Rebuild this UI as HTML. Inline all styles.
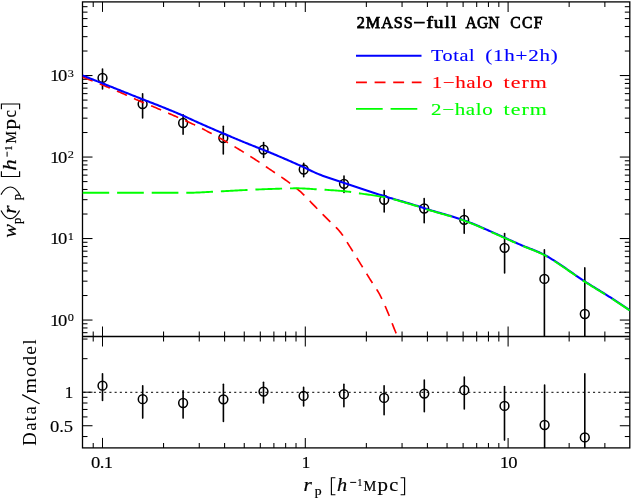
<!DOCTYPE html>
<html lang="en">
<head>
<meta charset="utf-8">
<title>2MASS-full AGN CCF</title>
<style>
html,body{margin:0;padding:0;background:#fff;}
body{width:631px;height:499px;overflow:hidden;position:relative;font-family:"Liberation Serif",serif;}
svg{will-change:transform;}
svg text{font-family:"Liberation Serif",serif;}
</style>
</head>
<body>
<svg width="631" height="499" viewBox="0 0 631 499" style="display:block;position:absolute;left:0;top:0">
<rect x="0" y="0" width="631" height="499" fill="#fff"/>
<defs>
<clipPath id="cu"><rect x="82.5" y="1.9" width="547.3" height="334.6"/></clipPath>
</defs>
<line x1="82.50" y1="392.30" x2="629.80" y2="392.30" stroke="#000" stroke-width="1.0" stroke-dasharray="2.1 3.1" stroke-dashoffset="-0.9"/>
<g fill="none" stroke="#000" stroke-width="1.3">
<rect x="82.5" y="1.9" width="547.30" height="446.00"/>
<line x1="82.5" y1="336.5" x2="629.8" y2="336.5"/>
</g>
<g stroke="#000" stroke-width="1.05" fill="none">
<path d="M93.22,1.9 v5.0"/>
<path d="M93.22,331.5 v10.0"/>
<path d="M93.22,447.9 v-5.0"/>
<path d="M102.50,1.9 v10.0"/>
<path d="M102.50,326.5 v20.0"/>
<path d="M102.50,447.9 v-10.0"/>
<path d="M163.55,1.9 v5.0"/>
<path d="M163.55,331.5 v10.0"/>
<path d="M163.55,447.9 v-5.0"/>
<path d="M199.26,1.9 v5.0"/>
<path d="M199.26,331.5 v10.0"/>
<path d="M199.26,447.9 v-5.0"/>
<path d="M224.60,1.9 v5.0"/>
<path d="M224.60,331.5 v10.0"/>
<path d="M224.60,447.9 v-5.0"/>
<path d="M244.25,1.9 v5.0"/>
<path d="M244.25,331.5 v10.0"/>
<path d="M244.25,447.9 v-5.0"/>
<path d="M260.31,1.9 v5.0"/>
<path d="M260.31,331.5 v10.0"/>
<path d="M260.31,447.9 v-5.0"/>
<path d="M273.89,1.9 v5.0"/>
<path d="M273.89,331.5 v10.0"/>
<path d="M273.89,447.9 v-5.0"/>
<path d="M285.65,1.9 v5.0"/>
<path d="M285.65,331.5 v10.0"/>
<path d="M285.65,447.9 v-5.0"/>
<path d="M296.02,1.9 v5.0"/>
<path d="M296.02,331.5 v10.0"/>
<path d="M296.02,447.9 v-5.0"/>
<path d="M305.30,1.9 v10.0"/>
<path d="M305.30,326.5 v20.0"/>
<path d="M305.30,447.9 v-10.0"/>
<path d="M366.35,1.9 v5.0"/>
<path d="M366.35,331.5 v10.0"/>
<path d="M366.35,447.9 v-5.0"/>
<path d="M402.06,1.9 v5.0"/>
<path d="M402.06,331.5 v10.0"/>
<path d="M402.06,447.9 v-5.0"/>
<path d="M427.40,1.9 v5.0"/>
<path d="M427.40,331.5 v10.0"/>
<path d="M427.40,447.9 v-5.0"/>
<path d="M447.05,1.9 v5.0"/>
<path d="M447.05,331.5 v10.0"/>
<path d="M447.05,447.9 v-5.0"/>
<path d="M463.11,1.9 v5.0"/>
<path d="M463.11,331.5 v10.0"/>
<path d="M463.11,447.9 v-5.0"/>
<path d="M476.69,1.9 v5.0"/>
<path d="M476.69,331.5 v10.0"/>
<path d="M476.69,447.9 v-5.0"/>
<path d="M488.45,1.9 v5.0"/>
<path d="M488.45,331.5 v10.0"/>
<path d="M488.45,447.9 v-5.0"/>
<path d="M498.82,1.9 v5.0"/>
<path d="M498.82,331.5 v10.0"/>
<path d="M498.82,447.9 v-5.0"/>
<path d="M508.10,1.9 v10.0"/>
<path d="M508.10,326.5 v20.0"/>
<path d="M508.10,447.9 v-10.0"/>
<path d="M569.15,1.9 v5.0"/>
<path d="M569.15,331.5 v10.0"/>
<path d="M569.15,447.9 v-5.0"/>
<path d="M604.86,1.9 v5.0"/>
<path d="M604.86,331.5 v10.0"/>
<path d="M604.86,447.9 v-5.0"/>
<path d="M82.5,332.67 h5.0"/>
<path d="M629.8,332.67 h-5.0"/>
<path d="M82.5,327.95 h5.0"/>
<path d="M629.8,327.95 h-5.0"/>
<path d="M82.5,323.78 h5.0"/>
<path d="M629.8,323.78 h-5.0"/>
<path d="M82.5,320.05 h10.0"/>
<path d="M629.8,320.05 h-10.0"/>
<path d="M82.5,295.52 h5.0"/>
<path d="M629.8,295.52 h-5.0"/>
<path d="M82.5,281.16 h5.0"/>
<path d="M629.8,281.16 h-5.0"/>
<path d="M82.5,270.98 h5.0"/>
<path d="M629.8,270.98 h-5.0"/>
<path d="M82.5,263.08 h5.0"/>
<path d="M629.8,263.08 h-5.0"/>
<path d="M82.5,256.63 h5.0"/>
<path d="M629.8,256.63 h-5.0"/>
<path d="M82.5,251.17 h5.0"/>
<path d="M629.8,251.17 h-5.0"/>
<path d="M82.5,246.45 h5.0"/>
<path d="M629.8,246.45 h-5.0"/>
<path d="M82.5,242.28 h5.0"/>
<path d="M629.8,242.28 h-5.0"/>
<path d="M82.5,238.55 h10.0"/>
<path d="M629.8,238.55 h-10.0"/>
<path d="M82.5,214.02 h5.0"/>
<path d="M629.8,214.02 h-5.0"/>
<path d="M82.5,199.66 h5.0"/>
<path d="M629.8,199.66 h-5.0"/>
<path d="M82.5,189.48 h5.0"/>
<path d="M629.8,189.48 h-5.0"/>
<path d="M82.5,181.58 h5.0"/>
<path d="M629.8,181.58 h-5.0"/>
<path d="M82.5,175.13 h5.0"/>
<path d="M629.8,175.13 h-5.0"/>
<path d="M82.5,169.67 h5.0"/>
<path d="M629.8,169.67 h-5.0"/>
<path d="M82.5,164.95 h5.0"/>
<path d="M629.8,164.95 h-5.0"/>
<path d="M82.5,160.78 h5.0"/>
<path d="M629.8,160.78 h-5.0"/>
<path d="M82.5,157.05 h10.0"/>
<path d="M629.8,157.05 h-10.0"/>
<path d="M82.5,132.52 h5.0"/>
<path d="M629.8,132.52 h-5.0"/>
<path d="M82.5,118.16 h5.0"/>
<path d="M629.8,118.16 h-5.0"/>
<path d="M82.5,107.98 h5.0"/>
<path d="M629.8,107.98 h-5.0"/>
<path d="M82.5,100.08 h5.0"/>
<path d="M629.8,100.08 h-5.0"/>
<path d="M82.5,93.63 h5.0"/>
<path d="M629.8,93.63 h-5.0"/>
<path d="M82.5,88.17 h5.0"/>
<path d="M629.8,88.17 h-5.0"/>
<path d="M82.5,83.45 h5.0"/>
<path d="M629.8,83.45 h-5.0"/>
<path d="M82.5,79.28 h5.0"/>
<path d="M629.8,79.28 h-5.0"/>
<path d="M82.5,75.55 h10.0"/>
<path d="M629.8,75.55 h-10.0"/>
<path d="M82.5,51.02 h5.0"/>
<path d="M629.8,51.02 h-5.0"/>
<path d="M82.5,36.66 h5.0"/>
<path d="M629.8,36.66 h-5.0"/>
<path d="M82.5,26.48 h5.0"/>
<path d="M629.8,26.48 h-5.0"/>
<path d="M82.5,18.58 h5.0"/>
<path d="M629.8,18.58 h-5.0"/>
<path d="M82.5,12.13 h5.0"/>
<path d="M629.8,12.13 h-5.0"/>
<path d="M82.5,6.67 h5.0"/>
<path d="M629.8,6.67 h-5.0"/>
<path d="M82.5,436.53 h5.0"/>
<path d="M629.8,436.53 h-5.0"/>
<path d="M82.5,425.73 h10.0"/>
<path d="M629.8,425.73 h-10.0"/>
<path d="M82.5,416.91 h5.0"/>
<path d="M629.8,416.91 h-5.0"/>
<path d="M82.5,409.46 h5.0"/>
<path d="M629.8,409.46 h-5.0"/>
<path d="M82.5,403.00 h5.0"/>
<path d="M629.8,403.00 h-5.0"/>
<path d="M82.5,397.30 h5.0"/>
<path d="M629.8,397.30 h-5.0"/>
<path d="M82.5,392.20 h10.0"/>
<path d="M629.8,392.20 h-10.0"/>
<path d="M82.5,358.67 h5.0"/>
<path d="M629.8,358.67 h-5.0"/>
<path d="M82.5,339.05 h5.0"/>
<path d="M629.8,339.05 h-5.0"/>
</g>
<g stroke="#000" stroke-width="1.6" fill="none" stroke-linecap="round">
<path d="M102.5,69.10 V89.00"/>
<path d="M142.6,93.70 V117.90"/>
<path d="M183.1,114.70 V134.30"/>
<path d="M223.3,126.20 V153.90"/>
<path d="M263.6,142.60 V157.50"/>
<path d="M303.7,163.40 V176.80"/>
<path d="M344.0,176.10 V192.40"/>
<path d="M384.2,190.60 V212.00"/>
<path d="M424.2,198.60 V222.70"/>
<path d="M464.2,209.50 V233.20"/>
<path d="M504.6,233.60 V272.90"/>
<path d="M544.4,249.80 V336.10"/>
<path d="M584.8,267.90 V336.10"/>
<path d="M102.5,373.70 V400.40"/>
<path d="M142.7,385.70 V418.10"/>
<path d="M183.1,390.80 V418.10"/>
<path d="M223.4,384.20 V421.50"/>
<path d="M263.5,382.20 V403.00"/>
<path d="M303.6,387.40 V405.90"/>
<path d="M343.9,384.20 V406.70"/>
<path d="M384.1,385.70 V414.70"/>
<path d="M424.3,380.00 V411.80"/>
<path d="M464.3,377.10 V409.00"/>
<path d="M504.5,386.50 V440.10"/>
<path d="M544.6,385.10 V447.50"/>
<path d="M584.8,373.70 V447.50"/>
</g>
<g stroke="#000" stroke-width="1.5" fill="none">
<circle cx="102.5" cy="77.9" r="4.4"/>
<circle cx="142.6" cy="104.0" r="4.4"/>
<circle cx="183.1" cy="123.0" r="4.4"/>
<circle cx="223.3" cy="138.0" r="4.4"/>
<circle cx="263.6" cy="149.6" r="4.4"/>
<circle cx="303.7" cy="169.5" r="4.4"/>
<circle cx="344.0" cy="183.8" r="4.4"/>
<circle cx="384.2" cy="199.8" r="4.4"/>
<circle cx="424.2" cy="208.5" r="4.4"/>
<circle cx="464.2" cy="219.8" r="4.4"/>
<circle cx="504.6" cy="247.8" r="4.4"/>
<circle cx="544.4" cy="278.9" r="4.4"/>
<circle cx="584.8" cy="314.0" r="4.4"/>
<circle cx="102.5" cy="385.7" r="4.4"/>
<circle cx="142.7" cy="399.2" r="4.4"/>
<circle cx="183.1" cy="403.0" r="4.4"/>
<circle cx="223.4" cy="399.3" r="4.4"/>
<circle cx="263.5" cy="391.6" r="4.4"/>
<circle cx="303.6" cy="395.9" r="4.4"/>
<circle cx="343.9" cy="394.2" r="4.4"/>
<circle cx="384.1" cy="397.9" r="4.4"/>
<circle cx="424.3" cy="393.6" r="4.4"/>
<circle cx="464.3" cy="390.2" r="4.4"/>
<circle cx="504.5" cy="405.9" r="4.4"/>
<circle cx="544.6" cy="425.0" r="4.4"/>
<circle cx="584.8" cy="437.4" r="4.4"/>
</g>
<g clip-path="url(#cu)" fill="none" stroke-linejoin="round">
<path d="M82.50,77.00 L83.50,77.39 L84.50,77.78 L85.50,78.17 L86.50,78.57 L87.50,78.96 L88.50,79.36 L89.50,79.75 L90.50,80.15 L91.50,80.55 L92.50,80.95 L93.50,81.35 L94.50,81.75 L95.50,82.15 L96.50,82.56 L97.50,82.96 L98.50,83.37 L99.50,83.77 L100.50,84.18 L101.50,84.59 L102.50,84.99 L103.50,85.40 L104.50,85.81 L105.50,86.22 L106.50,86.63 L107.50,87.05 L108.50,87.46 L109.50,87.87 L110.50,88.29 L111.50,88.70 L112.50,89.12 L113.50,89.54 L114.50,89.96 L115.50,90.38 L116.50,90.80 L117.50,91.23 L118.50,91.65 L119.50,92.08 L120.50,92.51 L121.50,92.94 L122.50,93.37 L123.50,93.81 L124.50,94.25 L125.50,94.70 L126.50,95.14 L127.50,95.60 L128.50,96.05 L129.50,96.50 L130.50,96.95 L131.50,97.41 L132.50,97.86 L133.50,98.31 L134.50,98.76 L135.50,99.21 L136.50,99.65 L137.50,100.09 L138.50,100.53 L139.50,100.96 L140.50,101.38 L141.50,101.81 L142.50,102.23 L143.50,102.64 L144.50,103.06 L145.50,103.47 L146.50,103.88 L147.50,104.29 L148.50,104.70 L149.50,105.12 L150.50,105.53 L151.50,105.94 L152.50,106.36 L153.50,106.77 L154.50,107.19 L155.50,107.61 L156.50,108.04 L157.50,108.47 L158.50,108.90 L159.50,109.33 L160.50,109.76 L161.50,110.19 L162.50,110.62 L163.50,111.06 L164.50,111.49 L165.50,111.93 L166.50,112.37 L167.50,112.80 L168.50,113.24 L169.50,113.68 L170.50,114.12 L171.50,114.56 L172.50,115.00 L173.50,115.44 L174.50,115.88 L175.50,116.31 L176.50,116.75 L177.50,117.19 L178.50,117.62 L179.50,118.06 L180.50,118.49 L181.50,118.93 L182.50,119.37 L183.50,119.81 L184.50,120.25 L185.50,120.69 L186.50,121.14 L187.50,121.59 L188.50,122.04 L189.50,122.50 L190.50,122.96 L191.50,123.43 L192.50,123.89 L193.50,124.37 L194.50,124.85 L195.50,125.33 L196.50,125.82 L197.50,126.31 L198.50,126.81 L199.50,127.31 L200.50,127.81 L201.50,128.31 L202.50,128.82 L203.50,129.33 L204.50,129.85 L205.50,130.37 L206.50,130.89 L207.50,131.41 L208.50,131.94 L209.50,132.47 L210.50,133.00 L211.50,133.54 L212.50,134.08 L213.50,134.62 L214.50,135.16 L215.50,135.70 L216.50,136.25 L217.50,136.80 L218.50,137.35 L219.50,137.91 L220.50,138.46 L221.50,139.02 L222.50,139.58 L223.50,140.15 L224.50,140.72 L225.50,141.29 L226.50,141.87 L227.50,142.46 L228.50,143.05 L229.50,143.64 L230.50,144.23 L231.50,144.83 L232.50,145.43 L233.50,146.04 L234.50,146.64 L235.50,147.25 L236.50,147.86 L237.50,148.47 L238.50,149.07 L239.50,149.68 L240.50,150.29 L241.50,150.90 L242.50,151.52 L243.50,152.13 L244.50,152.75 L245.50,153.37 L246.50,153.99 L247.50,154.61 L248.50,155.24 L249.50,155.86 L250.50,156.49 L251.50,157.13 L252.50,157.76 L253.50,158.40 L254.50,159.05 L255.50,159.69 L256.50,160.35 L257.50,161.00 L258.50,161.66 L259.50,162.33 L260.50,163.00 L261.50,163.67 L262.50,164.34 L263.50,165.02 L264.50,165.69 L265.50,166.37 L266.50,167.05 L267.50,167.73 L268.50,168.41 L269.50,169.09 L270.50,169.76 L271.50,170.44 L272.50,171.11 L273.50,171.78 L274.50,172.44 L275.50,173.11 L276.50,173.77 L277.50,174.44 L278.50,175.11 L279.50,175.78 L280.50,176.46 L281.50,177.14 L282.50,177.83 L283.50,178.53 L284.50,179.24 L285.50,179.96 L286.50,180.69 L287.50,181.43 L288.50,182.17 L289.50,182.91 L290.50,183.66 L291.50,184.42 L292.50,185.18 L293.50,185.96 L294.50,186.74 L295.50,187.54 L296.50,188.35 L297.50,189.17 L298.50,190.01 L299.50,190.87 L300.50,191.74 L301.50,192.64 L302.50,193.57 L303.50,194.53 L304.50,195.52 L305.50,196.53 L306.50,197.56 L307.50,198.60 L308.50,199.65 L309.50,200.71 L310.50,201.76 L311.50,202.82 L312.50,203.86 L313.50,204.89 L314.50,205.91 L315.50,206.94 L316.50,207.96 L317.50,208.98 L318.50,210.01 L319.50,211.04 L320.50,212.06 L321.50,213.09 L322.50,214.11 L323.50,215.14 L324.50,216.16 L325.50,217.18 L326.50,218.20 L327.50,219.20 L328.50,220.18 L329.50,221.14 L330.50,222.08 L331.50,223.02 L332.50,223.95 L333.50,224.90 L334.50,225.86 L335.50,226.84 L336.50,227.86 L337.50,228.91 L338.50,230.01 L339.50,231.16 L340.50,232.37 L341.50,233.68 L342.50,235.08 L343.50,236.56 L344.50,238.09 L345.50,239.67 L346.50,241.28 L347.50,242.90 L348.50,244.52 L349.50,246.11 L350.50,247.68 L351.50,249.26 L352.50,250.86 L353.50,252.46 L354.50,254.08 L355.50,255.70 L356.50,257.32 L357.50,258.95 L358.50,260.57 L359.50,262.19 L360.50,263.81 L361.50,265.42 L362.50,267.04 L363.50,268.67 L364.50,270.29 L365.50,271.91 L366.50,273.53 L367.50,275.15 L368.50,276.76 L369.50,278.38 L370.50,279.98 L371.50,281.54 L372.50,283.07 L373.50,284.57 L374.50,286.08 L375.50,287.60 L376.50,289.15 L377.50,290.75 L378.50,292.43 L379.50,294.18 L380.50,296.05 L381.50,298.04 L382.50,300.13 L383.50,302.32 L384.50,304.58 L385.50,306.90 L386.50,309.24 L387.50,311.60 L388.50,314.02 L389.50,316.53 L390.50,319.11 L391.50,321.71 L392.50,324.31 L393.50,326.86 L394.50,329.33 L395.50,331.73 L396.50,334.09 L397.50,336.50 L398.50,338.97 L399.50,341.47 L400.50,344.00" stroke="#ff0000" stroke-width="1.65" stroke-dasharray="10.9 7.7"/>
<path d="M82.50,75.40 L84.00,76.00 L85.50,76.59 L87.00,77.19 L88.50,77.78 L90.00,78.38 L91.50,78.97 L93.00,79.57 L94.50,80.17 L96.00,80.76 L97.50,81.36 L99.00,81.95 L100.50,82.55 L102.00,83.15 L103.50,83.74 L105.00,84.34 L106.50,84.94 L108.00,85.54 L109.50,86.13 L111.00,86.73 L112.50,87.33 L114.00,87.92 L115.50,88.52 L117.00,89.12 L118.50,89.72 L120.00,90.31 L121.50,90.91 L123.00,91.51 L124.50,92.11 L126.00,92.71 L127.50,93.30 L129.00,93.90 L130.50,94.50 L132.00,95.10 L133.50,95.69 L135.00,96.29 L136.50,96.88 L138.00,97.47 L139.50,98.06 L141.00,98.65 L142.50,99.23 L144.00,99.82 L145.50,100.41 L147.00,100.99 L148.50,101.58 L150.00,102.16 L151.50,102.75 L153.00,103.34 L154.50,103.92 L156.00,104.51 L157.50,105.10 L159.00,105.70 L160.50,106.29 L162.00,106.89 L163.50,107.49 L165.00,108.09 L166.50,108.69 L168.00,109.30 L169.50,109.91 L171.00,110.53 L172.50,111.14 L174.00,111.77 L175.50,112.39 L177.00,113.02 L178.50,113.66 L180.00,114.30 L181.50,114.95 L183.00,115.61 L184.50,116.28 L186.00,116.96 L187.50,117.65 L189.00,118.34 L190.50,119.03 L192.00,119.73 L193.50,120.42 L195.00,121.11 L196.50,121.80 L198.00,122.48 L199.50,123.16 L201.00,123.82 L202.50,124.48 L204.00,125.14 L205.50,125.80 L207.00,126.46 L208.50,127.11 L210.00,127.76 L211.50,128.41 L213.00,129.06 L214.50,129.70 L216.00,130.35 L217.50,130.99 L219.00,131.63 L220.50,132.27 L222.00,132.91 L223.50,133.55 L225.00,134.19 L226.50,134.82 L228.00,135.46 L229.50,136.09 L231.00,136.72 L232.50,137.35 L234.00,137.98 L235.50,138.61 L237.00,139.24 L238.50,139.87 L240.00,140.49 L241.50,141.12 L243.00,141.74 L244.50,142.36 L246.00,142.97 L247.50,143.58 L249.00,144.19 L250.50,144.80 L252.00,145.40 L253.50,145.99 L255.00,146.58 L256.50,147.17 L258.00,147.75 L259.50,148.34 L261.00,148.93 L262.50,149.52 L264.00,150.12 L265.50,150.73 L267.00,151.34 L268.50,151.95 L270.00,152.57 L271.50,153.19 L273.00,153.82 L274.50,154.45 L276.00,155.09 L277.50,155.72 L279.00,156.36 L280.50,157.00 L282.00,157.64 L283.50,158.28 L285.00,158.93 L286.50,159.58 L288.00,160.23 L289.50,160.88 L291.00,161.54 L292.50,162.20 L294.00,162.86 L295.50,163.52 L297.00,164.19 L298.50,164.86 L300.00,165.53 L301.50,166.21 L303.00,166.88 L304.50,167.57 L306.00,168.27 L307.50,168.99 L309.00,169.72 L310.50,170.46 L312.00,171.19 L313.50,171.90 L315.00,172.60 L316.50,173.27 L318.00,173.90 L319.50,174.50 L321.00,175.08 L322.50,175.65 L324.00,176.19 L325.50,176.73 L327.00,177.26 L328.50,177.78 L330.00,178.30 L331.50,178.81 L333.00,179.32 L334.50,179.82 L336.00,180.31 L337.50,180.79 L339.00,181.28 L340.50,181.76 L342.00,182.25 L343.50,182.74 L345.00,183.23 L346.50,183.72 L348.00,184.22 L349.50,184.72 L351.00,185.22 L352.50,185.72 L354.00,186.22 L355.50,186.72 L357.00,187.22 L358.50,187.73 L360.00,188.23 L361.50,188.73 L363.00,189.23 L364.50,189.73 L366.00,190.23 L367.50,190.73 L369.00,191.23 L370.50,191.72 L372.00,192.21 L373.50,192.71 L375.00,193.19 L376.50,193.68 L378.00,194.16 L379.50,194.65 L381.00,195.12 L382.50,195.60 L384.00,196.07 L385.50,196.53 L387.00,196.99 L388.50,197.45 L390.00,197.90 L391.50,198.34 L393.00,198.78 L394.50,199.22 L396.00,199.66 L397.50,200.09 L399.00,200.52 L400.50,200.95 L402.00,201.38 L403.50,201.82 L405.00,202.25 L406.50,202.69 L408.00,203.12 L409.50,203.56 L411.00,204.01 L412.50,204.46 L414.00,204.92 L415.50,205.38 L417.00,205.84 L418.50,206.32 L420.00,206.80 L421.50,207.31 L423.00,207.83 L424.50,208.33 L426.00,208.81 L427.50,209.29 L429.00,209.75 L430.50,210.21 L432.00,210.65 L433.50,211.10 L435.00,211.54 L436.50,211.97 L438.00,212.40 L439.50,212.83 L441.00,213.26 L442.50,213.69 L444.00,214.11 L445.50,214.54 L447.00,214.97 L448.50,215.41 L450.00,215.85 L451.50,216.29 L453.00,216.74 L454.50,217.20 L456.00,217.67 L457.50,218.14 L459.00,218.63 L460.50,219.12 L462.00,219.63 L463.50,220.15 L465.00,220.69 L466.50,221.24 L468.00,221.80 L469.50,222.38 L471.00,222.97 L472.50,223.57 L474.00,224.18 L475.50,224.80 L477.00,225.43 L478.50,226.07 L480.00,226.72 L481.50,227.37 L483.00,228.03 L484.50,228.69 L486.00,229.36 L487.50,230.03 L489.00,230.70 L490.50,231.37 L492.00,232.04 L493.50,232.71 L495.00,233.39 L496.50,234.05 L498.00,234.72 L499.50,235.38 L501.00,236.04 L502.50,236.71 L504.00,237.38 L505.50,238.06 L507.00,238.74 L508.50,239.43 L510.00,240.11 L511.50,240.80 L513.00,241.48 L514.50,242.16 L516.00,242.83 L517.50,243.50 L519.00,244.16 L520.50,244.82 L522.00,245.45 L523.50,246.06 L525.00,246.67 L526.50,247.26 L528.00,247.84 L529.50,248.43 L531.00,249.01 L532.50,249.59 L534.00,250.19 L535.50,250.79 L537.00,251.41 L538.50,252.05 L540.00,252.71 L541.50,253.39 L543.00,254.11 L544.50,254.85 L546.00,255.65 L547.50,256.51 L549.00,257.41 L550.50,258.34 L552.00,259.28 L553.50,260.24 L555.00,261.19 L556.50,262.15 L558.00,263.13 L559.50,264.12 L561.00,265.13 L562.50,266.15 L564.00,267.18 L565.50,268.21 L567.00,269.26 L568.50,270.30 L570.00,271.35 L571.50,272.40 L573.00,273.45 L574.50,274.50 L576.00,275.54 L577.50,276.58 L579.00,277.60 L580.50,278.62 L582.00,279.62 L583.50,280.61 L585.00,281.58 L586.50,282.54 L588.00,283.49 L589.50,284.44 L591.00,285.37 L592.50,286.30 L594.00,287.22 L595.50,288.14 L597.00,289.06 L598.50,289.98 L600.00,290.90 L601.50,291.82 L603.00,292.74 L604.50,293.67 L606.00,294.61 L607.50,295.55 L609.00,296.51 L610.50,297.47 L612.00,298.44 L613.50,299.42 L615.00,300.40 L616.50,301.38 L618.00,302.37 L619.50,303.36 L621.00,304.35 L622.50,305.35 L624.00,306.35 L625.50,307.34 L627.00,308.34 L628.50,309.34 L629.80,310.20" stroke="#0000ff" stroke-width="2.1"/>
<path d="M82.50,192.80 L84.00,192.80 L85.50,192.80 L87.00,192.80 L88.50,192.80 L90.00,192.80 L91.50,192.80 L93.00,192.80 L94.50,192.80 L96.00,192.80 L97.50,192.80 L99.00,192.80 L100.50,192.80 L102.00,192.80 L103.50,192.80 L105.00,192.80 L106.50,192.80 L108.00,192.80 L109.50,192.80 L111.00,192.80 L112.50,192.80 L114.00,192.80 L115.50,192.80 L117.00,192.80 L118.50,192.80 L120.00,192.80 L121.50,192.80 L123.00,192.80 L124.50,192.80 L126.00,192.80 L127.50,192.80 L129.00,192.80 L130.50,192.80 L132.00,192.80 L133.50,192.80 L135.00,192.80 L136.50,192.80 L138.00,192.80 L139.50,192.80 L141.00,192.80 L142.50,192.80 L144.00,192.80 L145.50,192.80 L147.00,192.80 L148.50,192.80 L150.00,192.80 L151.50,192.80 L153.00,192.80 L154.50,192.80 L156.00,192.80 L157.50,192.80 L159.00,192.80 L160.50,192.80 L162.00,192.80 L163.50,192.80 L165.00,192.80 L166.50,192.80 L168.00,192.80 L169.50,192.80 L171.00,192.80 L172.50,192.80 L174.00,192.80 L175.50,192.80 L177.00,192.80 L178.50,192.80 L180.00,192.80 L181.50,192.80 L183.00,192.80 L184.50,192.80 L186.00,192.80 L187.50,192.80 L189.00,192.78 L190.50,192.76 L192.00,192.72 L193.50,192.68 L195.00,192.63 L196.50,192.57 L198.00,192.50 L199.50,192.43 L201.00,192.36 L202.50,192.28 L204.00,192.20 L205.50,192.12 L207.00,192.05 L208.50,191.97 L210.00,191.89 L211.50,191.82 L213.00,191.75 L214.50,191.68 L216.00,191.61 L217.50,191.53 L219.00,191.45 L220.50,191.37 L222.00,191.29 L223.50,191.20 L225.00,191.12 L226.50,191.03 L228.00,190.95 L229.50,190.86 L231.00,190.78 L232.50,190.69 L234.00,190.61 L235.50,190.53 L237.00,190.45 L238.50,190.37 L240.00,190.30 L241.50,190.23 L243.00,190.16 L244.50,190.08 L246.00,190.01 L247.50,189.94 L249.00,189.87 L250.50,189.80 L252.00,189.73 L253.50,189.66 L255.00,189.59 L256.50,189.52 L258.00,189.46 L259.50,189.39 L261.00,189.33 L262.50,189.27 L264.00,189.21 L265.50,189.16 L267.00,189.10 L268.50,189.05 L270.00,189.00 L271.50,188.95 L273.00,188.90 L274.50,188.85 L276.00,188.80 L277.50,188.75 L279.00,188.69 L280.50,188.64 L282.00,188.59 L283.50,188.55 L285.00,188.50 L286.50,188.46 L288.00,188.42 L289.50,188.39 L291.00,188.36 L292.50,188.34 L294.00,188.32 L295.50,188.31 L297.00,188.30 L298.50,188.31 L300.00,188.33 L301.50,188.38 L303.00,188.44 L304.50,188.51 L306.00,188.60 L307.50,188.69 L309.00,188.79 L310.50,188.90 L312.00,189.00 L313.50,189.10 L315.00,189.20 L316.50,189.29 L318.00,189.37 L319.50,189.46 L321.00,189.54 L322.50,189.63 L324.00,189.71 L325.50,189.80 L327.00,189.90 L328.50,190.00 L330.00,190.10 L331.50,190.21 L333.00,190.31 L334.50,190.42 L336.00,190.54 L337.50,190.65 L339.00,190.77 L340.50,190.90 L342.00,191.03 L343.50,191.17 L345.00,191.31 L346.50,191.46 L348.00,191.62 L349.50,191.79 L351.00,191.96 L352.50,192.17 L354.00,192.41 L355.50,192.68 L357.00,192.96 L358.50,193.22 L360.00,193.45 L361.50,193.68 L363.00,193.89 L364.50,194.10 L366.00,194.30 L367.50,194.50 L369.00,194.71 L370.50,194.92 L372.00,195.14 L373.50,195.36 L375.00,195.60 L376.50,195.85 L378.00,196.10 L379.50,196.36 L381.00,196.62 L382.50,196.89 L384.00,197.16 L385.50,197.45 L387.00,197.77 L388.50,198.10 L390.00,198.43 L391.50,198.78 L393.00,199.13 L394.50,199.50 L396.00,199.88 L397.50,200.34 L399.00,200.80 L400.50,201.25 L402.00,201.68 L403.50,202.12 L405.00,202.55 L406.50,202.99 L408.00,203.42 L409.50,203.86 L411.00,204.31 L412.50,204.76 L414.00,205.22 L415.50,205.68 L417.00,206.14 L418.50,206.62 L420.00,207.10 L421.50,207.61 L423.00,208.13 L424.50,208.63 L426.00,209.11 L427.50,209.59 L429.00,210.05 L430.50,210.51 L432.00,210.95 L433.50,211.40 L435.00,211.84 L436.50,212.27 L438.00,212.70 L439.50,213.13 L441.00,213.56 L442.50,213.99 L444.00,214.41 L445.50,214.84 L447.00,215.27 L448.50,215.71 L450.00,216.15 L451.50,216.59 L453.00,217.04 L454.50,217.50 L456.00,217.97 L457.50,218.44 L459.00,218.93 L460.50,219.42 L462.00,219.93 L463.50,220.45 L465.00,220.99 L466.50,221.54 L468.00,222.10 L469.50,222.68 L471.00,223.27 L472.50,223.87 L474.00,224.48 L475.50,225.10 L477.00,225.73 L478.50,226.37 L480.00,227.02 L481.50,227.67 L483.00,228.33 L484.50,228.99 L486.00,229.66 L487.50,230.33 L489.00,231.00 L490.50,231.67 L492.00,232.34 L493.50,233.01 L495.00,233.69 L496.50,234.35 L498.00,235.02 L499.50,235.68 L501.00,236.34 L502.50,237.01 L504.00,237.68 L505.50,238.36 L507.00,239.04 L508.50,239.73 L510.00,240.41 L511.50,241.10 L513.00,241.78 L514.50,242.46 L516.00,243.13 L517.50,243.80 L519.00,244.46 L520.50,245.12 L522.00,245.75 L523.50,246.36 L525.00,246.97 L526.50,247.56 L528.00,248.14 L529.50,248.73 L531.00,249.31 L532.50,249.89 L534.00,250.49 L535.50,251.09 L537.00,251.71 L538.50,252.35 L540.00,253.01 L541.50,253.69 L543.00,254.41 L544.50,255.15 L546.00,255.95 L547.50,256.81 L549.00,257.71 L550.50,258.64 L552.00,259.58 L553.50,260.54 L555.00,261.49 L556.50,262.45 L558.00,263.43 L559.50,264.42 L561.00,265.43 L562.50,266.45 L564.00,267.48 L565.50,268.51 L567.00,269.56 L568.50,270.60 L570.00,271.65 L571.50,272.70 L573.00,273.75 L574.50,274.80 L576.00,275.84 L577.50,276.88 L579.00,277.90 L580.50,278.92 L582.00,279.92 L583.50,280.91 L585.00,281.88 L586.50,282.84 L588.00,283.79 L589.50,284.74 L591.00,285.67 L592.50,286.60 L594.00,287.52 L595.50,288.44 L597.00,289.36 L598.50,290.28 L600.00,291.20 L601.50,292.12 L603.00,293.04 L604.50,293.97 L606.00,294.91 L607.50,295.85 L609.00,296.81 L610.50,297.77 L612.00,298.74 L613.50,299.72 L615.00,300.70 L616.50,301.68 L618.00,302.67 L619.50,303.66 L621.00,304.65 L622.50,305.65 L624.00,306.65 L625.50,307.64 L627.00,308.64 L628.50,309.64 L629.80,310.50" stroke="#00ff00" stroke-width="1.9" stroke-dasharray="26.7 7.9"/>
</g>
<g fill="none">
<path d="M356.0,55.7 H421.5" stroke="#0000ff" stroke-width="2.1"/>
<path d="M356.0,82.3 H421.5" stroke="#ff0000" stroke-width="1.65" stroke-dasharray="10.9 7.7"/>
<path d="M356.0,108.9 H421.5" stroke="#00ff00" stroke-width="1.7" stroke-dasharray="26.7 7.9"/>
</g>
<text transform="translate(356.80,27.60) scale(1.0,1)" font-size="16.2" fill="#000" text-anchor="start" textLength="56.00" lengthAdjust="spacing" font-family="Liberation Serif, serif" stroke="#000" stroke-width="0.75">2MASS</text>
<text transform="translate(413.20,27.60) scale(1.3,1)" font-size="16.2" fill="#000" text-anchor="start" font-family="Liberation Serif, serif" stroke="#000" stroke-width="0.75">&#8722;</text>
<text transform="translate(426.40,27.60) scale(1.2,1)" font-size="16.2" fill="#000" text-anchor="start" textLength="25.00" lengthAdjust="spacing" font-family="Liberation Serif, serif" stroke="#000" stroke-width="0.75">full</text>
<text transform="translate(465.60,27.60) scale(0.96,1)" font-size="16.2" fill="#000" text-anchor="start" textLength="35.31" lengthAdjust="spacing" font-family="Liberation Serif, serif" stroke="#000" stroke-width="0.75">AGN</text>
<text transform="translate(510.20,27.60) scale(0.96,1)" font-size="16.2" fill="#000" text-anchor="start" textLength="33.65" lengthAdjust="spacing" font-family="Liberation Serif, serif" stroke="#000" stroke-width="0.75">CCF</text>
<text transform="translate(431.00,60.60) scale(1.2,1)" font-size="16.8" fill="#0000ff" text-anchor="start" textLength="36.33" lengthAdjust="spacing" font-family="Liberation Serif, serif" stroke="#0000ff" stroke-width="0.12">Total</text>
<text transform="translate(485.20,60.60) scale(1.25,1)" font-size="16.8" fill="#0000ff" text-anchor="start" textLength="58.08" lengthAdjust="spacing" font-family="Liberation Serif, serif" stroke="#0000ff" stroke-width="0.12">(1h+2h)</text>
<text transform="translate(431.80,87.90) scale(1.25,1)" font-size="16.8" fill="#ff0000" text-anchor="start" textLength="48.80" lengthAdjust="spacing" font-family="Liberation Serif, serif" stroke="#ff0000" stroke-width="0.12">1&#8722;halo</text>
<text transform="translate(503.60,87.90) scale(1.3,1)" font-size="16.8" fill="#ff0000" text-anchor="start" textLength="33.23" lengthAdjust="spacing" font-family="Liberation Serif, serif" stroke="#ff0000" stroke-width="0.12">term</text>
<text transform="translate(431.00,114.60) scale(1.25,1)" font-size="16.8" fill="#00ff00" text-anchor="start" textLength="49.44" lengthAdjust="spacing" font-family="Liberation Serif, serif" stroke="#00ff00" stroke-width="0.12">2&#8722;halo</text>
<text transform="translate(503.60,114.60) scale(1.3,1)" font-size="16.8" fill="#00ff00" text-anchor="start" textLength="33.23" lengthAdjust="spacing" font-family="Liberation Serif, serif" stroke="#00ff00" stroke-width="0.12">term</text>
<text transform="translate(50.00,81.05) scale(1.15,1)" font-size="16.2" fill="#000" text-anchor="start" textLength="15.13" lengthAdjust="spacing" font-family="Liberation Serif, serif" stroke="#000" stroke-width="0.12">10</text>
<text transform="translate(67.80,76.95) scale(1.12,1)" font-size="11" fill="#000" text-anchor="start" font-family="Liberation Serif, serif" stroke="#000" stroke-width="0.12">3</text>
<text transform="translate(50.00,162.55) scale(1.15,1)" font-size="16.2" fill="#000" text-anchor="start" textLength="15.13" lengthAdjust="spacing" font-family="Liberation Serif, serif" stroke="#000" stroke-width="0.12">10</text>
<text transform="translate(67.80,158.45) scale(1.12,1)" font-size="11" fill="#000" text-anchor="start" font-family="Liberation Serif, serif" stroke="#000" stroke-width="0.12">2</text>
<text transform="translate(50.00,244.05) scale(1.15,1)" font-size="16.2" fill="#000" text-anchor="start" textLength="15.13" lengthAdjust="spacing" font-family="Liberation Serif, serif" stroke="#000" stroke-width="0.12">10</text>
<text transform="translate(67.80,239.95) scale(1.12,1)" font-size="11" fill="#000" text-anchor="start" font-family="Liberation Serif, serif" stroke="#000" stroke-width="0.12">1</text>
<text transform="translate(50.00,325.55) scale(1.15,1)" font-size="16.2" fill="#000" text-anchor="start" textLength="15.13" lengthAdjust="spacing" font-family="Liberation Serif, serif" stroke="#000" stroke-width="0.12">10</text>
<text transform="translate(67.80,321.45) scale(1.12,1)" font-size="11" fill="#000" text-anchor="start" font-family="Liberation Serif, serif" stroke="#000" stroke-width="0.12">0</text>
<text transform="translate(64.60,397.70) scale(1.1,1)" font-size="16.2" fill="#000" text-anchor="start" font-family="Liberation Serif, serif" stroke="#000" stroke-width="0.12">1</text>
<text transform="translate(49.90,432.00) scale(1.15,1)" font-size="16.2" fill="#000" text-anchor="start" textLength="20.17" lengthAdjust="spacing" font-family="Liberation Serif, serif" stroke="#000" stroke-width="0.12">0.5</text>
<text transform="translate(91.00,467.90) scale(1.15,1)" font-size="16.2" fill="#000" text-anchor="start" textLength="19.13" lengthAdjust="spacing" font-family="Liberation Serif, serif" stroke="#000" stroke-width="0.12">0.1</text>
<text transform="translate(301.40,467.90) scale(1.1,1)" font-size="16.2" fill="#000" text-anchor="start" font-family="Liberation Serif, serif" stroke="#000" stroke-width="0.12">1</text>
<text transform="translate(499.80,467.90) scale(1.15,1)" font-size="16.2" fill="#000" text-anchor="start" textLength="15.48" lengthAdjust="spacing" font-family="Liberation Serif, serif" stroke="#000" stroke-width="0.12">10</text>
<g transform="translate(0,490.9)" stroke="#000" stroke-width="0.2">
<text transform="translate(303.60,0.00) scale(1.15,1)" font-size="18.7" fill="#000" text-anchor="start" font-family="Liberation Serif, serif" font-style="italic">r</text>
<text transform="translate(314.80,4.40) scale(1.2,1)" font-size="11.5" fill="#000" text-anchor="start" font-family="Liberation Serif, serif" >p</text>
<path d="M335.40,-13.20 H331.40 V3.80 H335.40" fill="none" stroke="#000" stroke-width="1.15"/>
<text transform="translate(337.00,0.00) scale(1.08,1)" font-size="18.7" fill="#000" text-anchor="start" font-family="Liberation Serif, serif" font-style="italic">h</text>
<path d="M350.20,-8.50 H356.20" fill="none" stroke="#000" stroke-width="1.0"/>
<text transform="translate(357.60,-4.50) scale(1.0,1)" font-size="9.5" fill="#000" text-anchor="start" font-family="Liberation Serif, serif" >1</text>
<text transform="translate(363.40,0.00) scale(0.95,1)" font-size="15.2" fill="#000" text-anchor="start" font-family="Liberation Serif, serif" >M</text>
<text transform="translate(377.40,0.00) scale(1.12,1)" font-size="18.7" fill="#000" text-anchor="start" font-family="Liberation Serif, serif" >p</text>
<text transform="translate(389.20,0.00) scale(1.08,1)" font-size="18.7" fill="#000" text-anchor="start" font-family="Liberation Serif, serif" >c</text>
<path d="M400.60,-13.20 H404.60 V3.80 H400.60" fill="none" stroke="#000" stroke-width="1.15"/>
</g>
<g transform="translate(15.8,238) rotate(-90)" stroke="#000" stroke-width="0.2">
<text transform="translate(0.30,0.00) scale(1.1,1)" font-size="18.7" fill="#000" text-anchor="start" font-family="Liberation Serif, serif" font-style="italic">w</text>
<text transform="translate(14.00,5.40) scale(1.1,1)" font-size="11.5" fill="#000" text-anchor="start" font-family="Liberation Serif, serif" >p</text>
<path d="M27.60,-14.80 C16.67,-9.22 16.67,-1.78 27.60,3.80" fill="none" stroke="#000" stroke-width="1.15"/>
<text transform="translate(24.40,0.00) scale(1.1,1)" font-size="18.7" fill="#000" text-anchor="start" font-family="Liberation Serif, serif" font-style="italic">r</text>
<text transform="translate(37.80,5.40) scale(1.1,1)" font-size="11.5" fill="#000" text-anchor="start" font-family="Liberation Serif, serif" >p</text>
<path d="M43.40,-14.80 C53.53,-9.22 53.53,-1.78 43.40,3.80" fill="none" stroke="#000" stroke-width="1.15"/>
<path d="M66.80,-14.40 H61.50 V3.80 H66.80" fill="none" stroke="#000" stroke-width="1.15"/>
<text transform="translate(67.40,0.00) scale(1.2,1)" font-size="18.7" fill="#000" text-anchor="start" font-family="Liberation Serif, serif" font-style="italic">h</text>
<path d="M81.30,-8.70 H86.30" fill="none" stroke="#000" stroke-width="1.0"/>
<text transform="translate(87.40,-4.30) scale(1.0,1)" font-size="9.5" fill="#000" text-anchor="start" font-family="Liberation Serif, serif" >1</text>
<text transform="translate(94.60,0.00) scale(0.92,1)" font-size="15.2" fill="#000" text-anchor="start" font-family="Liberation Serif, serif" >M</text>
<text transform="translate(108.40,0.00) scale(1.12,1)" font-size="18.7" fill="#000" text-anchor="start" font-family="Liberation Serif, serif" >p</text>
<text transform="translate(120.40,0.00) scale(0.9,1)" font-size="18.7" fill="#000" text-anchor="start" font-family="Liberation Serif, serif" >c</text>
<path d="M128.80,-14.40 H134.00 V3.80 H128.80" fill="none" stroke="#000" stroke-width="1.15"/>
</g>
<g transform="translate(36.0,445.5) rotate(-90)">
<text transform="translate(-0.20,0.00) scale(1.0,1)" font-size="18.7" fill="#000" text-anchor="start" textLength="39.40" lengthAdjust="spacing" font-family="Liberation Serif, serif" >Data</text>
<path d="M41.8,3.6 L50.9,-13.8" fill="none" stroke="#000" stroke-width="1.2"/>
<text transform="translate(52.00,0.00) scale(1.06,1)" font-size="18.7" fill="#000" text-anchor="start" textLength="51.13" lengthAdjust="spacing" font-family="Liberation Serif, serif" >model</text>
</g>
</svg>
</body>
</html>
